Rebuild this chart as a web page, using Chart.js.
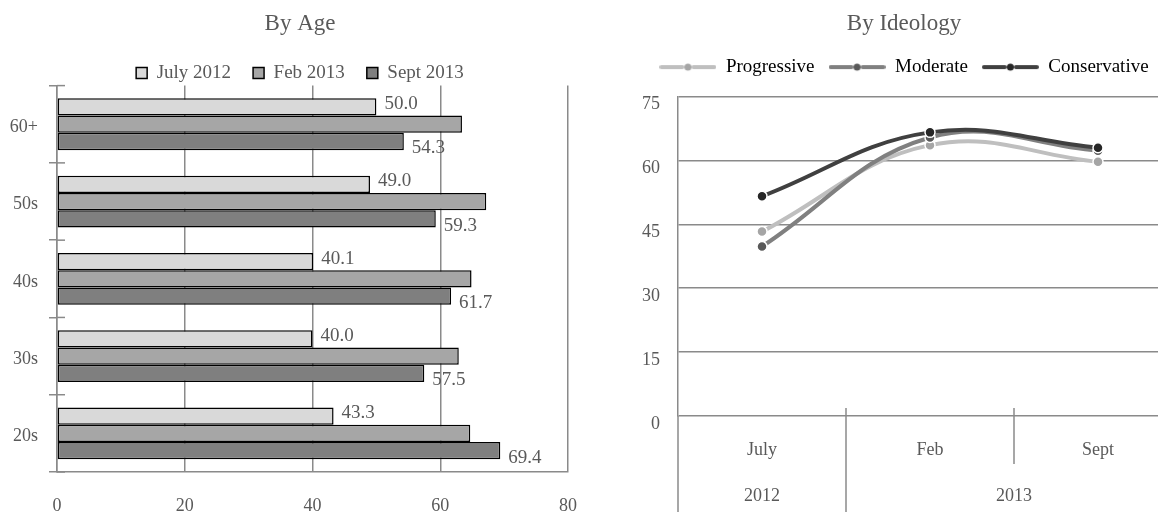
<!DOCTYPE html>
<html>
<head>
<meta charset="utf-8">
<title>Survey results by age and ideology</title>
<script src="https://cdn.jsdelivr.net/npm/chart.js@4/dist/chart.umd.min.js"></script>
<style>
    html, body { margin: 0; padding: 0; background: #fff; }
    body { width: 1158px; height: 512px; overflow: hidden; position: relative; }
    canvas { position: absolute; top: 0; }
    #ageChart { left: 0; }
    #ideologyChart { left: 600px; }
</style>
</head>
<body>
<canvas id="ageChart" width="600" height="512"></canvas>
<canvas id="ideologyChart" width="582" height="512"></canvas>
<script>
// --- Data ---
const ageGroups = ['60+', '50s', '40s', '30s', '20s'];
const july2012 = [50.0, 49.0, 40.1, 40.0, 43.3];
const feb2013 = [63.4, 67.2, 64.9, 62.9, 64.7];
const sept2013 = [54.3, 59.3, 61.7, 57.5, 69.4];

const surveyMonths = ['July', 'Feb', 'Sept'];
const surveyYears = ['2012', '2013'];
const yearSpans = [1, 2];   // how many months fall under each year label

const progressive = [43.3, 63.6, 59.7];
const moderate = [39.8, 65.4, 62.3];
const conservative = [51.6, 66.6, 63.0];

// --- Shared styling ---
const TEXT = '#595959';
const GRID = '#8a8a8a';
const FONT = "'Liberation Serif', 'DejaVu Serif', serif";
Chart.defaults.font.family = FONT;
Chart.defaults.font.size = 18;
Chart.defaults.color = TEXT;

// empty axis used only to reserve space beside/above the plot
function spacer(axis, position, size) {
    return {
        type: 'linear',
        axis: axis,
        position: position,
        ticks: { display: false },
        grid: { display: false },
        border: { display: false },
        afterFit: (scale) => {
            if (axis === 'x') scale.height = size; else scale.width = size;
        }
    };
}

// Value labels at the end of selected bar series
const barValueLabels = {
    id: 'barValueLabels',
    afterDatasetsDraw(chart) {
        const ctx = chart.ctx;
        ctx.save();
        ctx.font = '19px ' + FONT;
        ctx.fillStyle = TEXT;
        ctx.textAlign = 'left';
        ctx.textBaseline = 'middle';
        chart.data.datasets.forEach((ds, i) => {
            if (ds.labelShift === undefined) return;
            chart.getDatasetMeta(i).data.forEach((bar, j) => {
                ctx.fillText(ds.data[j].toFixed(1), bar.x + 8, bar.y + ds.labelShift);
            });
        });
        ctx.restore();
    }
};

// Cross tick marks on the category axis (inner half)
const innerTicks = {
    id: 'innerTicks',
    afterDraw(chart) {
        const y = chart.scales.y;
        const ctx = chart.ctx;
        ctx.save();
        ctx.strokeStyle = GRID;
        ctx.lineWidth = 1.5;
        for (let i = 0; i <= ageGroups.length; i++) {
            const py = y.getPixelForValue(i - 0.5);
            ctx.beginPath();
            ctx.moveTo(chart.chartArea.left, py);
            ctx.lineTo(chart.chartArea.left + 8, py);
            ctx.stroke();
        }
        ctx.restore();
    }
};

new Chart(document.getElementById('ageChart'), {
    type: 'bar',
    data: {
        labels: ageGroups,
        datasets: [
            { label: 'July 2012', data: july2012, backgroundColor: '#d9d9d9', labelShift: -3 },
            { label: 'Feb 2013', data: feb2013, backgroundColor: '#a6a6a6' },
            { label: 'Sept 2013', data: sept2013, backgroundColor: '#7f7f7f', labelShift: 7 }
        ]
    },
    options: {
        responsive: false,
        animation: false,
        indexAxis: 'y',
        layout: { autoPadding: false, padding: 0 },
        datasets: {
            bar: {
                borderColor: '#000',
                borderWidth: 1.5,
                borderSkipped: false,
                categoryPercentage: 0.67,
                barPercentage: 1.0
            }
        },
        plugins: {
            title: {
                display: true,
                text: 'By Age',
                color: TEXT,
                font: { size: 23, weight: 'normal' },
                padding: { top: 10, bottom: 4 }
            },
            legend: {
                maxHeight: 44,
                labels: { boxWidth: 11, boxHeight: 11, padding: 22, color: TEXT, font: { size: 19 } }
            },
            tooltip: { enabled: false }
        },
        scales: {
            x: {
                min: 0,
                max: 80,
                ticks: { stepSize: 20, padding: 23, color: TEXT },
                grid: { color: GRID, lineWidth: 1.5, drawTicks: false },
                border: { color: GRID, width: 1.5 },
                afterFit: (scale) => { scale.height = 40; }
            },
            y: {
                ticks: { padding: 11, labelOffset: 3, color: TEXT },
                grid: { offset: true, drawOnChartArea: false, tickLength: 8, color: GRID, lineWidth: 1.5 },
                border: { color: GRID, width: 1.5 },
                afterFit: (scale) => { scale.width = 57; }
            },
            rightGap: spacer('y', 'right', 25)
        }
    },
    plugins: [barValueLabels, innerTicks]
});

// Legend icon: line segment with a marker in the middle
function seriesIcon(lineColor, dotColor) {
    const c = document.createElement('canvas');
    c.width = 57;
    c.height = 12;
    const g = c.getContext('2d');
    g.strokeStyle = lineColor;
    g.lineWidth = 4;
    g.lineCap = 'round';
    g.beginPath();
    g.moveTo(2, 6); g.lineTo(23, 6);
    g.moveTo(34, 6); g.lineTo(55, 6);
    g.stroke();
    g.fillStyle = dotColor;
    g.beginPath();
    g.arc(28.5, 6, 3.5, 0, Math.PI * 2);
    g.fill();
    return c;
}

// Two-level category labels under the line chart
const groupedAxis = {
    id: 'groupedAxis',
    afterDraw(chart) {
        const x = chart.scales.x;
        const area = chart.chartArea;
        const ctx = chart.ctx;
        const bottom = chart.height;
        const n = surveyMonths.length;
        const edge = (i) => {
            if (i <= 0) return area.left;
            if (i >= n) return area.right;
            return (x.getPixelForValue(i - 1) + x.getPixelForValue(i)) / 2;
        };

        ctx.save();
        ctx.strokeStyle = GRID;
        ctx.lineWidth = 1.5;
        ctx.fillStyle = TEXT;
        ctx.font = '18px ' + FONT;
        ctx.textAlign = 'center';
        ctx.textBaseline = 'middle';

        surveyMonths.forEach((m, i) => {
            ctx.fillText(m, x.getPixelForValue(i), area.bottom + 34);
        });

        // separators: full height between years, short between months
        const yearEdges = [0];
        yearSpans.forEach(s => yearEdges.push(yearEdges[yearEdges.length - 1] + s));
        for (let i = 0; i <= n; i++) {
            const px = edge(i);
            const full = yearEdges.includes(i);
            ctx.beginPath();
            ctx.moveTo(px, i === 0 ? area.bottom : area.bottom - 8);
            ctx.lineTo(px, full ? bottom : area.bottom + 48);
            ctx.stroke();
        }

        surveyYears.forEach((yr, k) => {
            const cx = (edge(yearEdges[k]) + edge(yearEdges[k + 1])) / 2;
            ctx.fillText(yr, cx, area.bottom + 80);
        });
        ctx.restore();
    }
};

const lineSeries = [
    { label: 'Progressive', data: progressive, line: '#bfbfbf', dot: '#a5a5a5', order: 2 },
    { label: 'Moderate', data: moderate, line: '#808080', dot: '#595959', order: 1 },
    { label: 'Conservative', data: conservative, line: '#404040', dot: '#262626', order: 0 }
];

new Chart(document.getElementById('ideologyChart'), {
    type: 'line',
    data: {
        labels: surveyMonths,
        datasets: lineSeries.map(s => ({
            label: s.label,
            data: s.data,
            order: s.order,
            borderColor: s.line,
            borderWidth: 4,
            tension: 0.4,
            pointRadius: 5,
            pointBorderWidth: 1.5,
            pointBorderColor: '#ffffff',
            pointBackgroundColor: s.dot
        }))
    },
    options: {
        responsive: false,
        animation: false,
        layout: { autoPadding: false, padding: { left: 26, right: 0, top: 0, bottom: 0 } },
        plugins: {
            title: {
                display: true,
                text: 'By Ideology',
                color: TEXT,
                font: { size: 23, weight: 'normal' },
                padding: { top: 10, bottom: 6 }
            },
            legend: {
                labels: {
                    usePointStyle: true,
                    pointStyleWidth: 57,
                    padding: 14,
                    color: TEXT,
                    font: { size: 19 },
                    generateLabels: () => lineSeries.map((s, i) => ({
                        text: s.label,
                        pointStyle: seriesIcon(s.line, s.dot),
                        fillStyle: s.line,
                        strokeStyle: s.line,
                        lineWidth: 0,
                        hidden: false,
                        datasetIndex: i
                    }))
                }
            },
            tooltip: { enabled: false }
        },
        scales: {
            x: {
                offset: true,
                ticks: { display: false },
                grid: { display: false },
                border: { display: false },
                afterFit: (scale) => { scale.height = 96; }
            },
            y: {
                min: 0,
                max: 75,
                ticks: { stepSize: 15, padding: 18, labelOffset: 8, color: TEXT },
                grid: { color: GRID, lineWidth: 1.5, drawTicks: false },
                border: { color: GRID, width: 1.5 },
                afterFit: (scale) => { scale.width = 52; }
            },
            topGap: spacer('x', 'top', 10)
        }
    },
    plugins: [groupedAxis]
});
</script>
</body>
</html>
